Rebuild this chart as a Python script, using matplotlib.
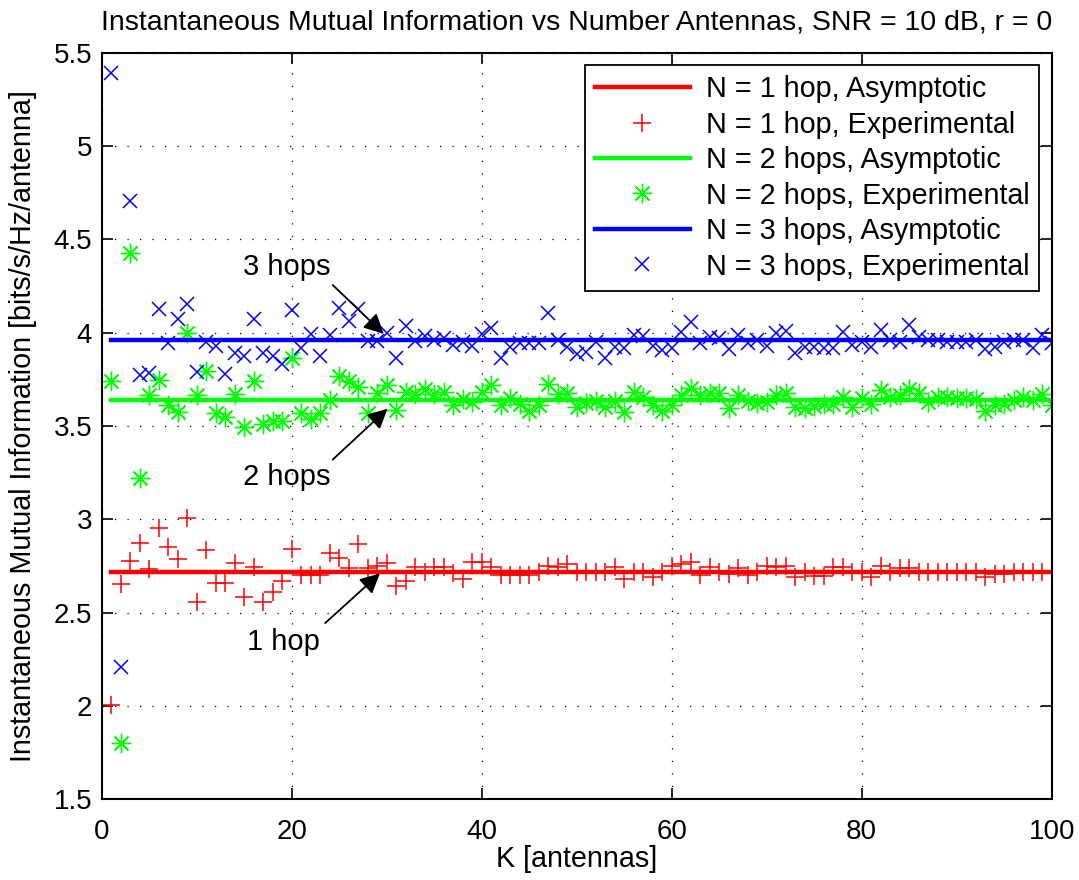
import numpy as np
import matplotlib
matplotlib.use("Agg")
import matplotlib.pyplot as plt

plt.rcParams["font.family"] = ["Liberation Sans", "DejaVu Sans"]

K = np.arange(1, 101)

# asymptotic values
asym_1hop = 2.72
asym_2hops = 3.642
asym_3hops = 3.961

# experimental values, K = 1..100
exp_1hop = [
    2.006, 2.654, 2.779, 2.872, 2.733, 2.952, 2.854, 2.787, 3.006, 2.556,
    2.836, 2.661, 2.661, 2.768, 2.586, 2.744, 2.559, 2.613, 2.667, 2.842,
    2.702, 2.702, 2.702, 2.819, 2.792, 2.738, 2.867, 2.740, 2.750, 2.768,
    2.643, 2.670, 2.747, 2.720, 2.747, 2.747, 2.715, 2.681, 2.770, 2.774,
    2.747, 2.702, 2.702, 2.702, 2.702, 2.720, 2.752, 2.747, 2.760, 2.720,
    2.720, 2.720, 2.720, 2.747, 2.681, 2.720, 2.720, 2.693, 2.720, 2.752,
    2.760, 2.770, 2.700, 2.747, 2.720, 2.708, 2.738, 2.702, 2.720, 2.751,
    2.747, 2.751, 2.690, 2.720, 2.697, 2.697, 2.747, 2.747, 2.720, 2.720,
    2.693, 2.752, 2.720, 2.738, 2.738, 2.720, 2.720, 2.720, 2.720, 2.720,
    2.720, 2.720, 2.690, 2.708, 2.708, 2.720, 2.720, 2.720, 2.720, 2.720,
]
exp_2hops = [
    3.739, 1.801, 4.425, 3.220, 3.667, 3.747, 3.613, 3.577, 4.000, 3.667,
    3.797, 3.568, 3.550, 3.670, 3.494, 3.743, 3.510, 3.525, 3.525, 3.863,
    3.570, 3.536, 3.570, 3.640, 3.766, 3.739, 3.707, 3.568, 3.675, 3.720,
    3.586, 3.680, 3.670, 3.700, 3.670, 3.680, 3.613, 3.645, 3.630, 3.680,
    3.720, 3.613, 3.650, 3.620, 3.583, 3.613, 3.725, 3.670, 3.675, 3.600,
    3.625, 3.636, 3.604, 3.636, 3.577, 3.680, 3.657, 3.613, 3.583, 3.613,
    3.667, 3.702, 3.667, 3.679, 3.679, 3.595, 3.667, 3.636, 3.625, 3.631,
    3.667, 3.676, 3.604, 3.595, 3.608, 3.618, 3.618, 3.657, 3.604, 3.649,
    3.618, 3.693, 3.657, 3.667, 3.699, 3.676, 3.631, 3.657, 3.657, 3.649,
    3.649, 3.643, 3.583, 3.613, 3.618, 3.640, 3.657, 3.640, 3.672, 3.613,
]
exp_3hops = [
    5.390, 2.210, 4.705, 3.774, 3.783, 4.126, 3.944, 4.072, 4.152, 3.791,
    3.950, 3.929, 3.779, 3.890, 3.877, 4.072, 3.890, 3.875, 3.833, 4.122,
    3.917, 3.992, 3.877, 3.990, 4.131, 4.065, 4.126, 3.956, 3.956, 3.997,
    3.863, 4.036, 3.953, 3.980, 3.960, 3.970, 3.934, 3.952, 3.930, 3.995,
    4.027, 3.863, 3.925, 3.943, 3.943, 3.943, 4.107, 3.960, 3.925, 3.886,
    3.899, 3.950, 3.863, 3.925, 3.917, 3.990, 3.980, 3.930, 3.907, 3.917,
    4.005, 4.059, 3.943, 3.979, 3.970, 3.911, 3.988, 3.943, 3.961, 3.931,
    3.997, 4.011, 3.893, 3.925, 3.925, 3.917, 3.917, 4.002, 3.934, 3.952,
    3.925, 4.015, 3.961, 3.952, 4.041, 3.979, 3.961, 3.961, 3.952, 3.952,
    3.952, 3.961, 3.911, 3.925, 3.952, 3.961, 3.961, 3.917, 3.988, 3.943,
]

fig = plt.figure(figsize=(10.79, 8.8), dpi=100)
ax = fig.add_axes([0.0943, 0.0917, 0.8804, 0.8484])

asterisk = (8, 2, 0)
ax.plot(K, np.full(K.size, asym_1hop), color="red", lw=3.2, label="N = 1 hop, Asymptotic")
ax.plot(K, exp_1hop, ls="none", marker="+", ms=13, mew=1.1, color="red",
        label="N = 1 hop, Experimental")
ax.plot(K, np.full(K.size, asym_2hops), color="#00ff00", lw=3.2, label="N = 2 hops, Asymptotic")
ax.plot(K, exp_2hops, ls="none", marker=asterisk, ms=14, mew=1.0, color="#00ff00",
        label="N = 2 hops, Experimental")
ax.plot(K, np.full(K.size, asym_3hops), color="blue", lw=3.2, label="N = 3 hops, Asymptotic")
ax.plot(K, exp_3hops, ls="none", marker="x", ms=10, mew=1.1, color="blue",
        label="N = 3 hops, Experimental")

ax.set_xlim(0, 100)
ax.set_ylim(1.5, 5.5)
ax.set_xticks(np.arange(0, 101, 20))
ax.set_yticks(np.arange(1.5, 5.51, 0.5))
ax.set_yticklabels(["1.5", "2", "2.5", "3", "3.5", "4", "4.5", "5", "5.5"])
ax.tick_params(direction="in", length=8, width=1.2, top=True, right=True, labelsize=20)
ax.tick_params(axis="x", pad=14)
ax.tick_params(axis="y", pad=7)
ax.grid(True, color="black", ls=(0, (1, 9)), lw=0.9)
for s in ax.spines.values():
    s.set_linewidth(1.5)

ax.set_title("Instantaneous Mutual Information vs Number Antennas, SNR = 10 dB, r = 0",
             fontsize=20.5, pad=17)
ax.set_xlabel("K [antennas]", fontsize=20.7, labelpad=0)
ax.set_ylabel("Instantaneous Mutual Information [bits/s/Hz/antenna]", fontsize=20.7, labelpad=12)

leg = ax.legend(loc="upper right", fontsize=20.7, fancybox=False, framealpha=1,
                edgecolor="black", handlelength=3.3, borderaxespad=0.43,
                labelspacing=0.26, handletextpad=0.55, borderpad=0.35)
leg.get_frame().set_linewidth(1.3)

arrow = dict(arrowstyle="-|>", color="black", lw=1.3, mutation_scale=30)
ax.annotate("", xy=(29.9, 3.983), xytext=(24.1, 4.266), arrowprops=arrow)
ax.annotate("", xy=(30.3, 3.603), xytext=(24.1, 3.31), arrowprops=arrow)
ax.annotate("", xy=(29.5, 2.72), xytext=(23.3, 2.434), arrowprops=arrow)
ax.text(19.5, 4.354, "3 hops", fontsize=21, ha="center", va="center")
ax.text(19.5, 3.226, "2 hops", fontsize=21, ha="center", va="center")
ax.text(19.1, 2.344, "1 hop", fontsize=21, ha="center", va="center")

fig.savefig("out.png", dpi=100)
